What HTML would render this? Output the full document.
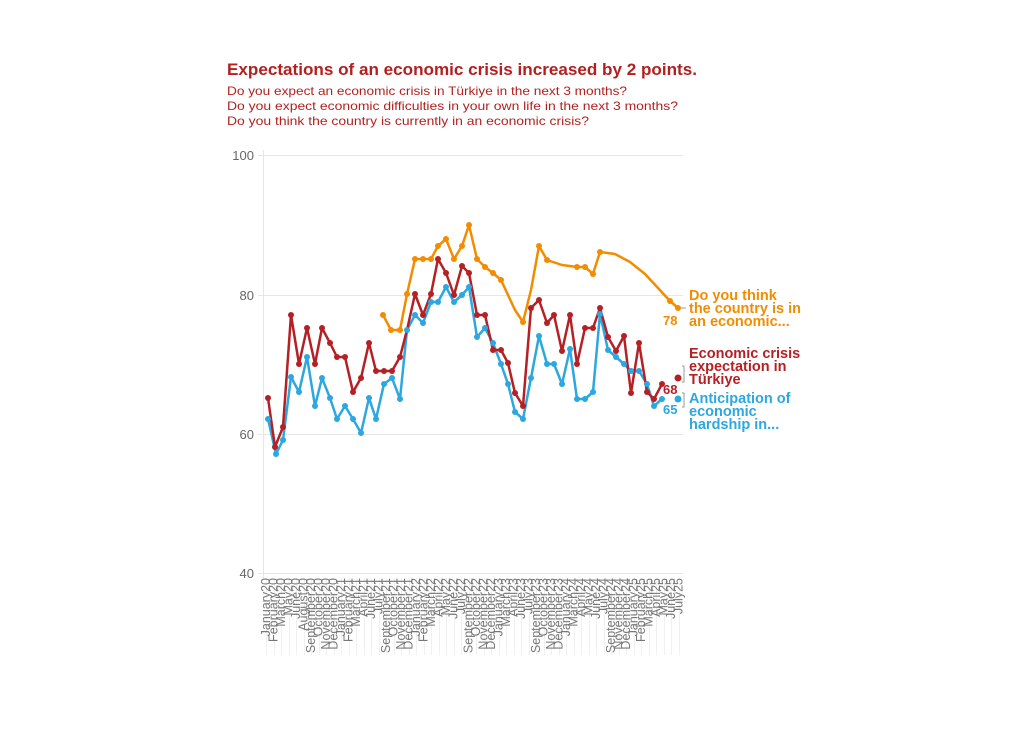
<!DOCTYPE html>
<html><head><meta charset="utf-8"><style>
html,body{margin:0;padding:0;background:#fff;}
svg{display:block;font-family:"Liberation Sans",sans-serif;}
</style></head><body>
<svg width="1024" height="743" viewBox="0 0 1024 743" xmlns="http://www.w3.org/2000/svg">
<text x="227" y="75" font-size="16.5" font-weight="bold" fill="#b3201f" textLength="470" lengthAdjust="spacingAndGlyphs">Expectations of an economic crisis increased by 2 points.</text>
<g font-size="12" fill="#b3201f">
<text x="227" y="95" textLength="400" lengthAdjust="spacingAndGlyphs">Do you expect an economic crisis in Türkiye in the next 3 months?</text>
<text x="227" y="110" textLength="451" lengthAdjust="spacingAndGlyphs">Do you expect economic difficulties in your own life in the next 3 months?</text>
<text x="227" y="125" textLength="362" lengthAdjust="spacingAndGlyphs">Do you think the country is currently in an economic crisis?</text>
</g>
<g stroke="#f0f0f0" stroke-width="1">
<line x1="266.5" y1="578" x2="266.5" y2="655"/><line x1="274.5" y1="578" x2="274.5" y2="655"/><line x1="281.5" y1="578" x2="281.5" y2="655"/><line x1="289.5" y1="578" x2="289.5" y2="655"/><line x1="296.5" y1="578" x2="296.5" y2="655"/><line x1="304.5" y1="578" x2="304.5" y2="655"/><line x1="311.5" y1="578" x2="311.5" y2="655"/><line x1="319.5" y1="578" x2="319.5" y2="655"/><line x1="326.5" y1="578" x2="326.5" y2="655"/><line x1="334.5" y1="578" x2="334.5" y2="655"/><line x1="341.5" y1="578" x2="341.5" y2="655"/><line x1="349.5" y1="578" x2="349.5" y2="655"/><line x1="356.5" y1="578" x2="356.5" y2="655"/><line x1="364.5" y1="578" x2="364.5" y2="655"/><line x1="371.5" y1="578" x2="371.5" y2="655"/><line x1="379.5" y1="578" x2="379.5" y2="655"/><line x1="386.5" y1="578" x2="386.5" y2="655"/><line x1="394.5" y1="578" x2="394.5" y2="655"/><line x1="401.5" y1="578" x2="401.5" y2="655"/><line x1="409.5" y1="578" x2="409.5" y2="655"/><line x1="416.5" y1="578" x2="416.5" y2="655"/><line x1="424.5" y1="578" x2="424.5" y2="655"/><line x1="431.5" y1="578" x2="431.5" y2="655"/><line x1="439.5" y1="578" x2="439.5" y2="655"/><line x1="446.5" y1="578" x2="446.5" y2="655"/><line x1="454.5" y1="578" x2="454.5" y2="655"/><line x1="461.5" y1="578" x2="461.5" y2="655"/><line x1="469.5" y1="578" x2="469.5" y2="655"/><line x1="476.5" y1="578" x2="476.5" y2="655"/><line x1="484.5" y1="578" x2="484.5" y2="655"/><line x1="491.5" y1="578" x2="491.5" y2="655"/><line x1="499.5" y1="578" x2="499.5" y2="655"/><line x1="506.5" y1="578" x2="506.5" y2="655"/><line x1="514.5" y1="578" x2="514.5" y2="655"/><line x1="521.5" y1="578" x2="521.5" y2="655"/><line x1="529.5" y1="578" x2="529.5" y2="655"/><line x1="536.5" y1="578" x2="536.5" y2="655"/><line x1="544.5" y1="578" x2="544.5" y2="655"/><line x1="551.5" y1="578" x2="551.5" y2="655"/><line x1="559.5" y1="578" x2="559.5" y2="655"/><line x1="566.5" y1="578" x2="566.5" y2="655"/><line x1="574.5" y1="578" x2="574.5" y2="655"/><line x1="581.5" y1="578" x2="581.5" y2="655"/><line x1="589.5" y1="578" x2="589.5" y2="655"/><line x1="596.5" y1="578" x2="596.5" y2="655"/><line x1="604.5" y1="578" x2="604.5" y2="655"/><line x1="611.5" y1="578" x2="611.5" y2="655"/><line x1="619.5" y1="578" x2="619.5" y2="655"/><line x1="626.5" y1="578" x2="626.5" y2="655"/><line x1="634.5" y1="578" x2="634.5" y2="655"/><line x1="641.5" y1="578" x2="641.5" y2="655"/><line x1="649.5" y1="578" x2="649.5" y2="655"/><line x1="656.5" y1="578" x2="656.5" y2="655"/><line x1="664.5" y1="578" x2="664.5" y2="655"/><line x1="671.5" y1="578" x2="671.5" y2="655"/><line x1="679.5" y1="578" x2="679.5" y2="655"/>
</g>
<g stroke="#e6e6e6" stroke-width="1">
<line x1="258" y1="155.5" x2="683" y2="155.5"/>
<line x1="258" y1="295.5" x2="683" y2="295.5"/>
<line x1="258" y1="434.5" x2="683" y2="434.5"/>
<line x1="258" y1="573.5" x2="683" y2="573.5"/>
<line x1="263.5" y1="150" x2="263.5" y2="578"/>
</g>
<g font-size="13" fill="#666" text-anchor="end">
<text x="254" y="160">100</text><text x="254" y="300">80</text><text x="254" y="439">60</text><text x="254" y="578">40</text>
</g>
<g fill="none" stroke-width="2.5" stroke-linejoin="round">
<polyline stroke="#f28c00" points="383,315 391,330 400,330 407,294 415,259 423,259 431,259 438,246 446,239 454,259 462,246 469,225 477,259 485,267 493,273 501,280 508,295 515,310 523,322 531,290 539,246 547,260 562,265 577,267 585,267 593,274 600,252 615,254 630,262 645,274 658,288 670,301 678,308"/>
<polyline stroke="#2ca7e0" points="268,419 276,454 283,440 291,377 299,392 307,357 315,406 322,378 330,398 337,419 345,406 353,419 361,433 369,398 376,419 384,384 392,378 400,399 407,330 415,315 423,323 431,302 438,302 446,287 454,302 462,295 469,287 477,337 485,328 493,343 501,364 508,384 515,412 523,419 531,378 539,336 547,364 554,364 562,384 570,349 577,399 585,399 593,392 600,314 608,350 616,357 624,364 631,371 639,371 647,384 654,406 662,399"/>
<polyline stroke="#b52025" points="268,398 275,447 283,427 291,315 299,364 307,328 315,364 322,328 330,343 337,357 345,357 353,392 361,378 369,343 376,371 384,371 392,371 400,357 407,330 415,294 423,315 431,294 438,259 446,273 454,295 462,266 469,273 477,315 485,315 493,350 501,350 508,363 515,393 523,406 531,308 539,300 547,323 554,315 562,351 570,315 577,364 585,328 593,328 600,308 608,337 616,351 624,336 631,393 639,343 647,392 654,399 662,384"/>
</g>
<circle cx="678" cy="378" r="3.5" fill="#b52025"/>
<circle cx="678" cy="399" r="3.5" fill="#2ca7e0"/>
<g stroke="#999" stroke-width="1" fill="none">
<polyline points="682,366 684,366 684,382 682,382"/>
<polyline points="682,393 684,393 684,407 682,407"/>
<line x1="681" y1="308" x2="686" y2="308"/>
</g>
<g font-size="13" font-weight="bold">
<text x="663" y="325" fill="#f28c00">78</text>
<text x="663" y="394" fill="#b52025">68</text>
<text x="663" y="414" fill="#2ca7e0">65</text>
</g>
<g font-size="14.5" font-weight="bold">
<text fill="#f28c00"><tspan x="689" y="300">Do you think</tspan><tspan x="689" y="313">the country is in</tspan><tspan x="689" y="326">an economic...</tspan></text>
<text fill="#b52025"><tspan x="689" y="358">Economic crisis</tspan><tspan x="689" y="371">expectation in</tspan><tspan x="689" y="384">Türkiye</tspan></text>
<text fill="#2ca7e0"><tspan x="689" y="403">Anticipation of</tspan><tspan x="689" y="416">economic</tspan><tspan x="689" y="429">hardship in...</tspan></text>
</g>
<g font-size="12.5" fill="#777" text-anchor="end">
<text transform="translate(270,578) rotate(-90)">January20</text>
<text transform="translate(277.5,578) rotate(-90)">February20</text>
<text transform="translate(285,578) rotate(-90)">March20</text>
<text transform="translate(292.5,578) rotate(-90)">May20</text>
<text transform="translate(300,578) rotate(-90)">June20</text>
<text transform="translate(307.5,578) rotate(-90)">August20</text>
<text transform="translate(315,578) rotate(-90)">September20</text>
<text transform="translate(322.5,578) rotate(-90)">October20</text>
<text transform="translate(330,578) rotate(-90)">November20</text>
<text transform="translate(337.5,578) rotate(-90)">December20</text>
<text transform="translate(345,578) rotate(-90)">January21</text>
<text transform="translate(352.5,578) rotate(-90)">February21</text>
<text transform="translate(360,578) rotate(-90)">March21</text>
<text transform="translate(367.5,578) rotate(-90)">April21</text>
<text transform="translate(375,578) rotate(-90)">June21</text>
<text transform="translate(382.5,578) rotate(-90)">July21</text>
<text transform="translate(390,578) rotate(-90)">September21</text>
<text transform="translate(397.5,578) rotate(-90)">October21</text>
<text transform="translate(405,578) rotate(-90)">November21</text>
<text transform="translate(412.5,578) rotate(-90)">December21</text>
<text transform="translate(420,578) rotate(-90)">January22</text>
<text transform="translate(427.5,578) rotate(-90)">February22</text>
<text transform="translate(435,578) rotate(-90)">March22</text>
<text transform="translate(442.5,578) rotate(-90)">April22</text>
<text transform="translate(450,578) rotate(-90)">May22</text>
<text transform="translate(457.5,578) rotate(-90)">June22</text>
<text transform="translate(465,578) rotate(-90)">July22</text>
<text transform="translate(472.5,578) rotate(-90)">September22</text>
<text transform="translate(480,578) rotate(-90)">October22</text>
<text transform="translate(487.5,578) rotate(-90)">November22</text>
<text transform="translate(495,578) rotate(-90)">December22</text>
<text transform="translate(502.5,578) rotate(-90)">January23</text>
<text transform="translate(510,578) rotate(-90)">March23</text>
<text transform="translate(517.5,578) rotate(-90)">April23</text>
<text transform="translate(525,578) rotate(-90)">June23</text>
<text transform="translate(532.5,578) rotate(-90)">July23</text>
<text transform="translate(540,578) rotate(-90)">September23</text>
<text transform="translate(547.5,578) rotate(-90)">October23</text>
<text transform="translate(555,578) rotate(-90)">November23</text>
<text transform="translate(562.5,578) rotate(-90)">December23</text>
<text transform="translate(570,578) rotate(-90)">January24</text>
<text transform="translate(577.5,578) rotate(-90)">March24</text>
<text transform="translate(585,578) rotate(-90)">April24</text>
<text transform="translate(592.5,578) rotate(-90)">May24</text>
<text transform="translate(600,578) rotate(-90)">June24</text>
<text transform="translate(607.5,578) rotate(-90)">July24</text>
<text transform="translate(615,578) rotate(-90)">September24</text>
<text transform="translate(622.5,578) rotate(-90)">November24</text>
<text transform="translate(630,578) rotate(-90)">December24</text>
<text transform="translate(637.5,578) rotate(-90)">January25</text>
<text transform="translate(645,578) rotate(-90)">February25</text>
<text transform="translate(652.5,578) rotate(-90)">March25</text>
<text transform="translate(660,578) rotate(-90)">April25</text>
<text transform="translate(667.5,578) rotate(-90)">May25</text>
<text transform="translate(675,578) rotate(-90)">June25</text>
<text transform="translate(682.5,578) rotate(-90)">July25</text>
</g>
<g fill="#f28c00">
<circle cx="383" cy="315" r="3"/><circle cx="391" cy="330" r="3"/><circle cx="400" cy="330" r="3"/><circle cx="407" cy="294" r="3"/><circle cx="415" cy="259" r="3"/><circle cx="423" cy="259" r="3"/><circle cx="431" cy="259" r="3"/><circle cx="438" cy="246" r="3"/><circle cx="446" cy="239" r="3"/><circle cx="454" cy="259" r="3"/><circle cx="462" cy="246" r="3"/><circle cx="469" cy="225" r="3"/><circle cx="477" cy="259" r="3"/><circle cx="485" cy="267" r="3"/><circle cx="493" cy="273" r="3"/><circle cx="501" cy="280" r="3"/><circle cx="523" cy="322" r="3"/><circle cx="539" cy="246" r="3"/><circle cx="547" cy="260" r="3"/><circle cx="577" cy="267" r="3"/><circle cx="585" cy="267" r="3"/><circle cx="593" cy="274" r="3"/><circle cx="600" cy="252" r="3"/><circle cx="670" cy="301" r="3"/><circle cx="678" cy="308" r="3"/>
</g>
<g fill="#2ca7e0">
<circle cx="268" cy="419" r="3"/><circle cx="276" cy="454" r="3"/><circle cx="283" cy="440" r="3"/><circle cx="291" cy="377" r="3"/><circle cx="299" cy="392" r="3"/><circle cx="307" cy="357" r="3"/><circle cx="315" cy="406" r="3"/><circle cx="322" cy="378" r="3"/><circle cx="330" cy="398" r="3"/><circle cx="337" cy="419" r="3"/><circle cx="345" cy="406" r="3"/><circle cx="353" cy="419" r="3"/><circle cx="361" cy="433" r="3"/><circle cx="369" cy="398" r="3"/><circle cx="376" cy="419" r="3"/><circle cx="384" cy="384" r="3"/><circle cx="392" cy="378" r="3"/><circle cx="400" cy="399" r="3"/><circle cx="407" cy="330" r="3"/><circle cx="415" cy="315" r="3"/><circle cx="423" cy="323" r="3"/><circle cx="431" cy="302" r="3"/><circle cx="438" cy="302" r="3"/><circle cx="446" cy="287" r="3"/><circle cx="454" cy="302" r="3"/><circle cx="462" cy="295" r="3"/><circle cx="469" cy="287" r="3"/><circle cx="477" cy="337" r="3"/><circle cx="485" cy="328" r="3"/><circle cx="493" cy="343" r="3"/><circle cx="501" cy="364" r="3"/><circle cx="508" cy="384" r="3"/><circle cx="515" cy="412" r="3"/><circle cx="523" cy="419" r="3"/><circle cx="531" cy="378" r="3"/><circle cx="539" cy="336" r="3"/><circle cx="547" cy="364" r="3"/><circle cx="554" cy="364" r="3"/><circle cx="562" cy="384" r="3"/><circle cx="570" cy="349" r="3"/><circle cx="577" cy="399" r="3"/><circle cx="585" cy="399" r="3"/><circle cx="593" cy="392" r="3"/><circle cx="600" cy="314" r="3"/><circle cx="608" cy="350" r="3"/><circle cx="616" cy="357" r="3"/><circle cx="624" cy="364" r="3"/><circle cx="631" cy="371" r="3"/><circle cx="639" cy="371" r="3"/><circle cx="647" cy="384" r="3"/><circle cx="654" cy="406" r="3"/><circle cx="662" cy="399" r="3"/>
</g>
<g fill="#b52025">
<circle cx="268" cy="398" r="3"/><circle cx="275" cy="447" r="3"/><circle cx="283" cy="427" r="3"/><circle cx="291" cy="315" r="3"/><circle cx="299" cy="364" r="3"/><circle cx="307" cy="328" r="3"/><circle cx="315" cy="364" r="3"/><circle cx="322" cy="328" r="3"/><circle cx="330" cy="343" r="3"/><circle cx="337" cy="357" r="3"/><circle cx="345" cy="357" r="3"/><circle cx="353" cy="392" r="3"/><circle cx="361" cy="378" r="3"/><circle cx="369" cy="343" r="3"/><circle cx="376" cy="371" r="3"/><circle cx="384" cy="371" r="3"/><circle cx="392" cy="371" r="3"/><circle cx="400" cy="357" r="3"/><circle cx="415" cy="294" r="3"/><circle cx="423" cy="315" r="3"/><circle cx="431" cy="294" r="3"/><circle cx="438" cy="259" r="3"/><circle cx="446" cy="273" r="3"/><circle cx="454" cy="295" r="3"/><circle cx="462" cy="266" r="3"/><circle cx="469" cy="273" r="3"/><circle cx="477" cy="315" r="3"/><circle cx="485" cy="315" r="3"/><circle cx="493" cy="350" r="3"/><circle cx="501" cy="350" r="3"/><circle cx="508" cy="363" r="3"/><circle cx="515" cy="393" r="3"/><circle cx="523" cy="406" r="3"/><circle cx="531" cy="308" r="3"/><circle cx="539" cy="300" r="3"/><circle cx="547" cy="323" r="3"/><circle cx="554" cy="315" r="3"/><circle cx="562" cy="351" r="3"/><circle cx="570" cy="315" r="3"/><circle cx="577" cy="364" r="3"/><circle cx="585" cy="328" r="3"/><circle cx="593" cy="328" r="3"/><circle cx="600" cy="308" r="3"/><circle cx="608" cy="337" r="3"/><circle cx="616" cy="351" r="3"/><circle cx="624" cy="336" r="3"/><circle cx="631" cy="393" r="3"/><circle cx="639" cy="343" r="3"/><circle cx="647" cy="392" r="3"/><circle cx="654" cy="399" r="3"/><circle cx="662" cy="384" r="3"/>
</g>
</svg>
</body></html>
